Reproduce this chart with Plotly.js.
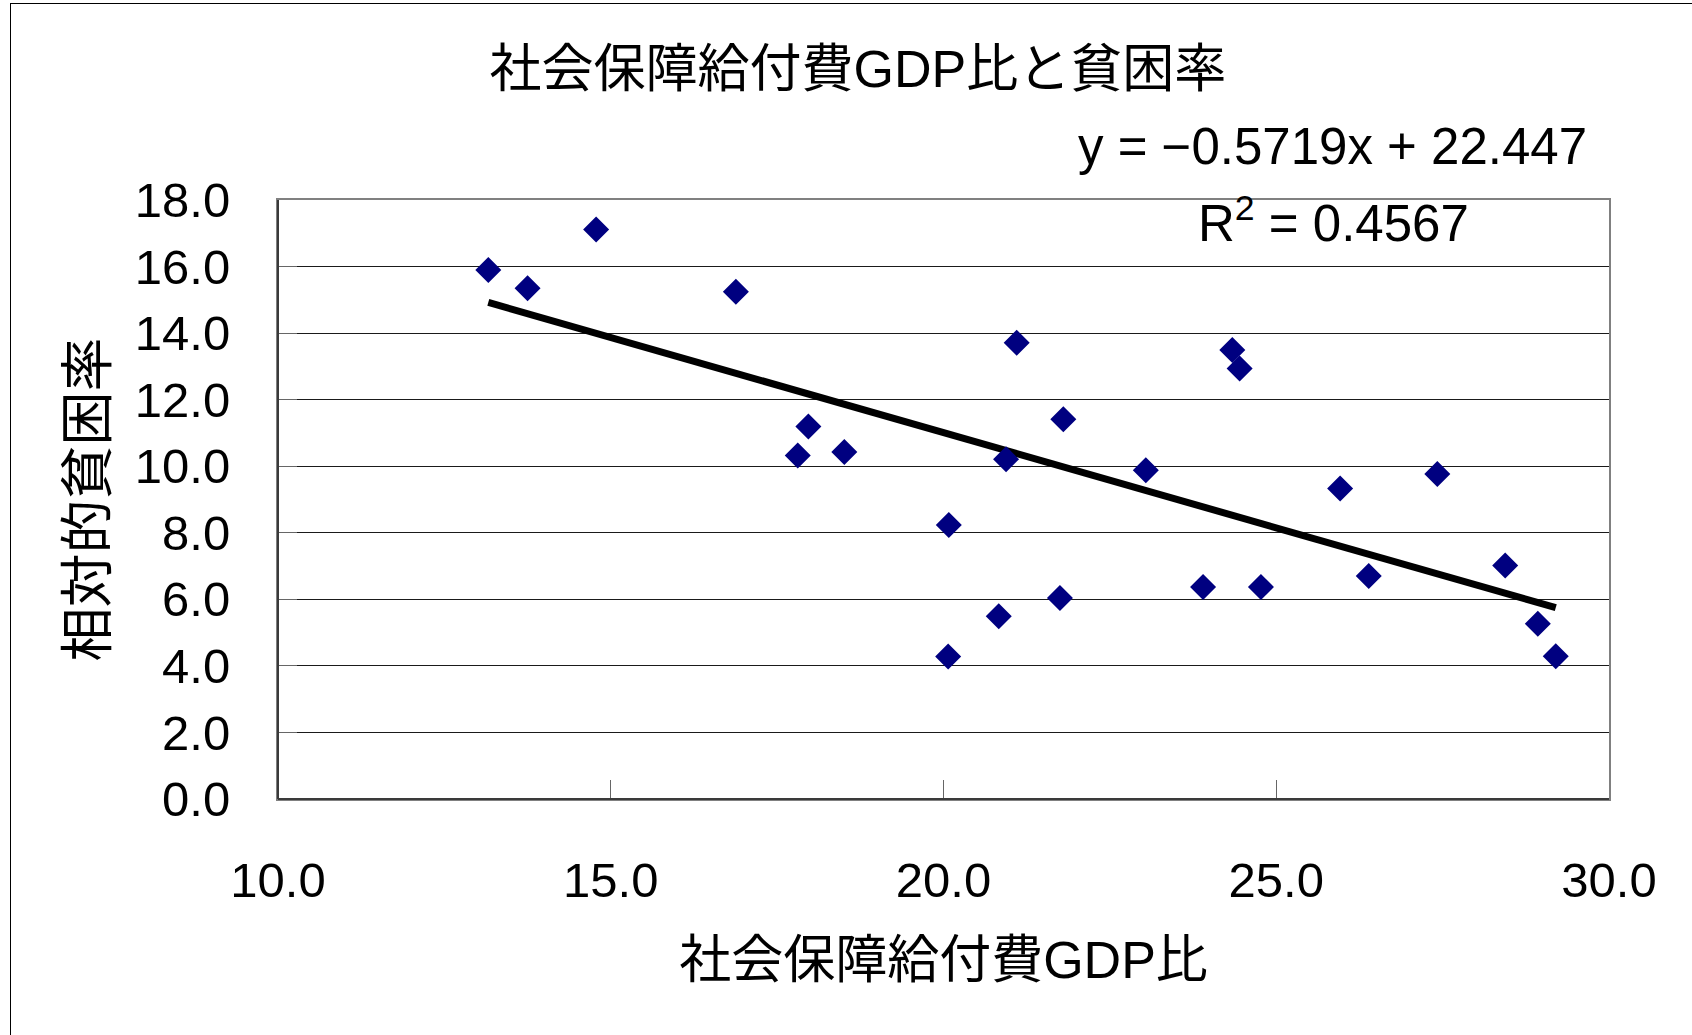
<!DOCTYPE html>
<html>
<head>
<meta charset="utf-8">
<script src="https://cdn.plot.ly/plotly-3.0.1.min.js"></script>
<style>
  html, body { margin: 0; padding: 0; background: #fff; overflow: hidden; }
  #chart { position: absolute; left: 0; top: 0; width: 1692px; height: 1035px; }
  #frame { position: absolute; left: 10px; top: 3px; width: 1800px; height: 1200px;
           border-left: 1px solid #000; border-top: 1px solid #000; pointer-events: none; }
</style>
</head>
<body>
<div id="chart"></div>
<div id="frame"></div>
<script>
// 社会保障給付費GDP比 (x) と 相対的貧困率 (y)
const gdpRatio = [13.16, 13.75, 14.78, 16.88, 17.81, 17.97, 18.51, 20.07, 20.08, 20.83,
                  20.94, 21.10, 21.75, 21.80, 23.04, 23.90, 24.34, 24.45, 24.77, 25.96,
                  26.39, 27.42, 28.44, 28.93, 29.20];
const povertyRate = [15.90, 15.35, 17.11, 15.24, 10.32, 11.19, 10.43, 4.28, 8.23, 5.49,
                     10.21, 13.71, 6.04, 11.41, 9.88, 6.37, 13.49, 12.94, 6.37, 9.33,
                     6.70, 9.77, 7.02, 5.27, 4.29];

// linear trend: y = slope * x + intercept
const slope = -0.5719;
const intercept = 22.447;
const rSquared = 0.4567;

const xTicks = [10, 15, 20, 25, 30];
const yTicks = [0, 2, 4, 6, 8, 10, 12, 14, 16, 18];

const trendX = [Math.min(...gdpRatio), Math.max(...gdpRatio)];
const trendY = trendX.map(v => slope * v + intercept);

const FONT = '"Liberation Sans", "Noto Sans CJK JP", sans-serif';

const points = {
  type: 'scatter', mode: 'markers',
  x: gdpRatio, y: povertyRate,
  marker: { symbol: 'diamond', size: 20, color: '#000080', line: { width: 0 } },
  hoverinfo: 'x+y', showlegend: false, cliponaxis: false
};

const trend = {
  type: 'scatter', mode: 'lines',
  x: trendX, y: trendY,
  line: { color: '#000', width: 7 },
  hoverinfo: 'skip', showlegend: false
};

const fmt = v => v.toFixed(1);

const layout = {
  width: 1692, height: 1035,
  margin: { l: 278, r: 83, t: 200, b: 236 },
  paper_bgcolor: '#fff', plot_bgcolor: '#fff',
  font: { family: FONT, color: '#000', size: 48 },
  title: {
    text: '社会保障給付費GDP比と貧困率',
    font: { family: FONT, size: 52, color: '#000' },
    xref: 'container', x: 0.507, xanchor: 'center',
    yref: 'container', y: 0.934, yanchor: 'middle'
  },
  xaxis: {
    range: [10, 30], tickvals: xTicks, ticktext: xTicks.map(fmt),
    ticks: 'inside', ticklen: 19, tickcolor: '#666', tickwidth: 1,
    ticklabelstandoff: 37,
    showgrid: false, zeroline: false,
    showline: true, linecolor: '#808080', linewidth: 2, mirror: true,
    tickfont: { family: FONT, size: 49, color: '#000' },
    title: { text: '社会保障給付費GDP比', font: { family: FONT, size: 52, color: '#000' }, standoff: 36 }
  },
  yaxis: {
    range: [0, 18], tickvals: yTicks, ticktext: yTicks.map(fmt),
    ticks: 'inside', ticklen: 19, tickcolor: '#666', tickwidth: 1,
    ticklabelstandoff: 36,
    showgrid: true, gridcolor: '#1a1a1a', gridwidth: 1,
    zeroline: false,
    showline: true, linecolor: '#808080', linewidth: 2, mirror: true,
    tickfont: { family: FONT, size: 49, color: '#000' },
    title: { text: '相対的貧困率', font: { family: FONT, size: 54, color: '#000' }, standoff: 10 }
  },
  shapes: [
    // darker left and bottom axis lines
    { type: 'line', xref: 'paper', yref: 'paper', x0: 0, x1: 0, y0: 0, y1: 1,
      line: { color: '#3a3a3a', width: 2 } },
    { type: 'line', xref: 'paper', yref: 'paper', x0: 0, x1: 1, y0: 0, y1: 0,
      line: { color: '#3a3a3a', width: 2 } }
  ],
  annotations: [
    { xref: 'paper', yref: 'paper', x: 0.792, y: 1.09, xanchor: 'center', yanchor: 'middle',
      text: 'y = −' + Math.abs(slope).toFixed(4) + 'x + ' + intercept.toFixed(3),
      showarrow: false, font: { family: FONT, size: 51, color: '#000' } },
    { xref: 'paper', yref: 'paper', x: 0.793, y: 0.966, xanchor: 'center', yanchor: 'middle',
      text: 'R<sup>2</sup> = ' + rSquared.toFixed(4),
      showarrow: false, font: { family: FONT, size: 51, color: '#000' } }
  ]
};

Plotly.newPlot('chart', [trend, points], layout, { displayModeBar: false, staticPlot: true });
</script>
</body>
</html>
